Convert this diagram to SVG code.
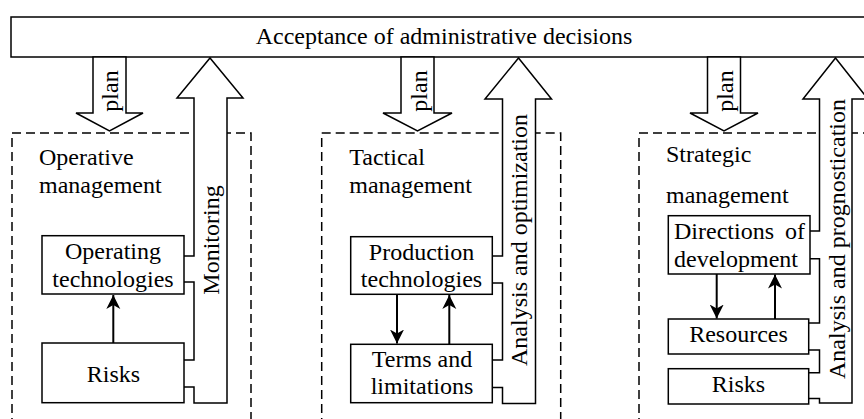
<svg xmlns="http://www.w3.org/2000/svg" width="864" height="419" viewBox="0 0 864 419">
<style>
text{font-family:"Liberation Serif","Times New Roman",serif;font-size:24px;fill:#000}
.box{fill:#fff;stroke:#000;stroke-width:1.5}
.dash{fill:none;stroke:#000;stroke-width:1.5;stroke-dasharray:9 5}
.blk{fill:#fff;stroke:#000;stroke-width:1.5;stroke-linejoin:miter}
.fill{fill:#fff;stroke:none}
.ln{fill:none;stroke:#000;stroke-width:1.5}
.arr{fill:none;stroke:#000;stroke-width:2;marker-end:url(#ah)}
.m{text-anchor:middle}
</style>
<defs>
<marker id="ah" markerUnits="userSpaceOnUse" markerWidth="16" markerHeight="16" viewBox="-14 -8 16 16" refX="0" refY="0" orient="auto">
<path d="M0,0 L-14,-7 L-10,0 L-14,7 Z" fill="#000"/>
</marker>
</defs>

<g id="decisions">
<rect class="box" x="11" y="17" width="880" height="40"/>
<text class="m" x="444" y="44">Acceptance of administrative decisions</text>
</g>

<g id="operative">
<rect class="dash" x="12" y="133" width="239" height="300"/>
<text x="39" y="165">Operative</text>
<text x="39" y="193">management</text>
</g>
<g id="tactical">
<rect class="dash" x="321.7" y="133" width="239" height="300"/>
<text x="349.3" y="165">Tactical</text>
<text x="349.3" y="193">management</text>
</g>
<g id="strategic">
<rect class="dash" x="639" y="133" width="260" height="300"/>
<text x="666" y="162">Strategic</text>
<text x="666" y="203">management</text>
</g>

<g id="connectors">
<polygon class="blk" points="93,57 126,57 126,113 143,113 109.5,131 76,113 93,113"/>
<text class="m" transform="translate(118,91) rotate(-90)">plan</text>
<polygon class="blk" points="401,57 434,57 434,113 452,113 417.5,131 383,113 401,113"/>
<text class="m" transform="translate(426.5,91) rotate(-90)">plan</text>
<polygon class="blk" points="707.5,57 740.5,57 740.5,113 758,113 724,131 690,113 707.5,113"/>
<text class="m" transform="translate(733,91) rotate(-90)">plan</text>

<polygon class="fill" points="194,403 194,98 177,98 210,58 243,98 227,98 227,403"/>
<polygon class="fill" points="502.5,403.5 502.5,99 485,99 518.5,58 551.5,99 535.5,99 535.5,403.5"/>
<polygon class="fill" points="819.5,403 819.5,99 803,99 835.5,58 868,99 852,99 852,403"/>

<path class="ln" d="M184 256 H194 V98 H177 L210 58 L243 98 H227 V403 H194 V387 H184"/>
<path class="ln" d="M184 282 H194 V360 H184"/>
<text class="m" transform="translate(219,240) rotate(-90)">Monitoring</text>

<path class="ln" d="M492 256 H502.5 V99 H485 L518.5 58 L551.5 99 H535.5 V403.5 H502.5 V387.5 H492"/>
<path class="ln" d="M492 283 H502.5 V360 H492"/>
<text class="m" transform="translate(527,240) rotate(-90)">Analysis and optimization</text>

<path class="ln" d="M810 231 H819.5 V99 H803 L835.5 58 L868 99 H852 V403 H819.5 V398.5 H809"/>
<path class="ln" d="M810 258.7 H819.5 V323 H809"/>
<path class="ln" d="M809 350 H819.5 V372.7 H809"/>
<text class="m" transform="translate(845,239) rotate(-90)">Analysis and prognostication</text>

<line class="arr" x1="113.3" y1="343" x2="113.3" y2="295"/>
<line class="arr" x1="397" y1="294.3" x2="397" y2="343.5"/>
<line class="arr" x1="449.3" y1="344.3" x2="449.3" y2="295"/>
<line class="arr" x1="716.7" y1="274" x2="716.7" y2="318.5"/>
<line class="arr" x1="775" y1="319" x2="775" y2="274.5"/>
</g>

<g id="operating-tech">
<rect class="box" x="42" y="235.7" width="142" height="58.3"/>
<text class="m" x="113" y="259">Operating</text>
<text class="m" x="113" y="287">technologies</text>
</g>
<g id="risks-op">
<rect class="box" x="42" y="343" width="142" height="59.7"/>
<text class="m" x="113.5" y="382">Risks</text>
</g>
<g id="production-tech">
<rect class="box" x="350.7" y="236.7" width="141.6" height="57.6"/>
<text class="m" x="421.5" y="260">Production</text>
<text class="m" x="421.5" y="287">technologies</text>
</g>
<g id="terms">
<rect class="box" x="350.7" y="344.3" width="141.6" height="58.4"/>
<text class="m" x="422" y="367">Terms and</text>
<text class="m" x="422" y="394">limitations</text>
</g>
<g id="directions">
<rect class="box" x="668.3" y="215.7" width="141.7" height="58.3"/>
<text x="674" y="239">Directions</text>
<text x="805" y="239" text-anchor="end">of</text>
<text x="674" y="267">development</text>
</g>
<g id="resources">
<rect class="box" x="668.3" y="319" width="140.4" height="35"/>
<text class="m" x="738.5" y="342">Resources</text>
</g>
<g id="risks-st">
<rect class="box" x="668.3" y="368.7" width="140.4" height="35.3"/>
<text class="m" x="738.5" y="392">Risks</text>
</g>
</svg>
